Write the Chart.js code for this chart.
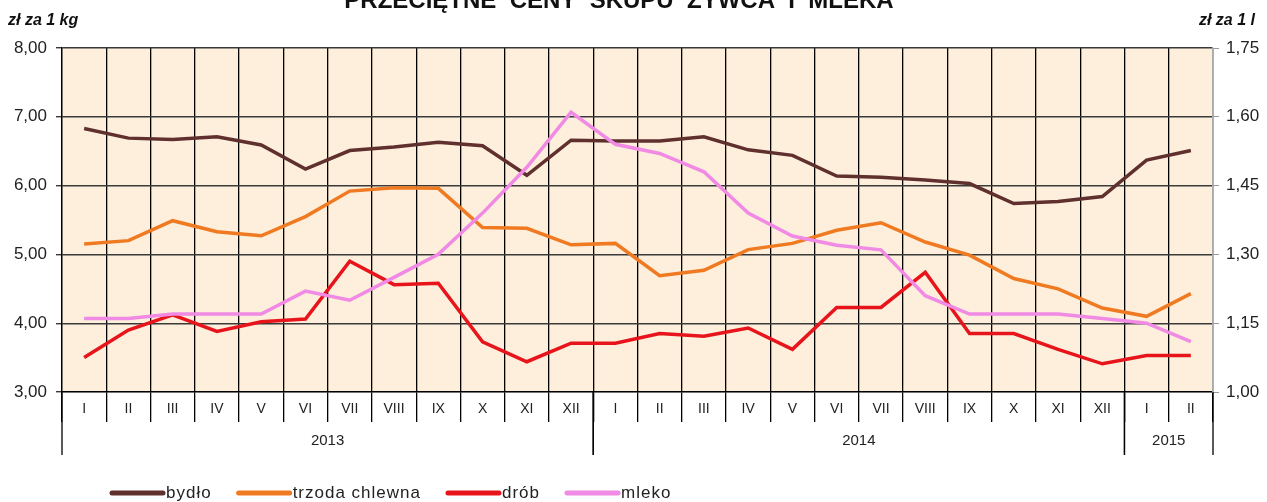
<!DOCTYPE html>
<html>
<head>
<meta charset="utf-8">
<script src="https://cdn.jsdelivr.net/npm/chart.js@4"></script>
<style>
  html, body { margin: 0; padding: 0; background: #fff; }
  #wrap { width: 1267px; height: 502px; }
</style>
</head>
<body>
<div id="wrap"><canvas id="myChart" width="1267" height="502"></canvas></div>
<script>
// months on the x axis, grouped by year below
var months = ['I','II','III','IV','V','VI','VII','VIII','IX','X','XI','XII',
              'I','II','III','IV','V','VI','VII','VIII','IX','X','XI','XII',
              'I','II'];
var yearLabels = ['2013', '2014', '2015'];
var yearCounts = [12, 12, 2];

// zl za 1 kg
var bydlo  = [6.83, 6.69, 6.67, 6.71, 6.59, 6.24, 6.51, 6.56, 6.63, 6.58, 6.15, 6.66,
              6.65, 6.65, 6.71, 6.52, 6.44, 6.14, 6.12, 6.08, 6.03, 5.74, 5.77, 5.84,
              6.37, 6.51];
var trzoda = [5.15, 5.20, 5.49, 5.33, 5.27, 5.55, 5.92, 5.97, 5.96, 5.39, 5.38, 5.14,
              5.16, 4.69, 4.77, 5.07, 5.16, 5.35, 5.46, 5.18, 4.99, 4.65, 4.50, 4.22,
              4.10, 4.43];
var drob   = [3.50, 3.90, 4.12, 3.88, 4.02, 4.06, 4.90, 4.56, 4.58, 3.73, 3.44, 3.71,
              3.71, 3.85, 3.81, 3.93, 3.62, 4.23, 4.23, 4.74, 3.85, 3.85, 3.62, 3.41,
              3.53, 3.53];
// zl za 1 l
var mleko  = [1.16, 1.16, 1.17, 1.17, 1.17, 1.22, 1.20, 1.25, 1.30, 1.39, 1.49, 1.61,
              1.54, 1.52, 1.48, 1.39, 1.34, 1.32, 1.31, 1.21, 1.17, 1.17, 1.17, 1.16,
              1.15, 1.11];

var FONT = '"Liberation Sans", Arial, sans-serif';

function fmt(v) { return v.toFixed(2).replace('.', ','); }

var extras = {
  id: 'extras',
  beforeDraw: function(chart) {
    var a = chart.chartArea, c = chart.ctx;
    c.save();
    c.fillStyle = '#fdefdc';
    c.fillRect(a.left, a.top, a.right - a.left, a.bottom - a.top);
    c.restore();
  },
  afterDraw: function(chart) {
    var c = chart.ctx, a = chart.chartArea, x = chart.scales.x;
    var half = (x.getPixelForValue(1) - x.getPixelForValue(0)) / 2;
    c.save();

    // year groups
    c.strokeStyle = '#000';
    c.lineWidth = 1.3;
    c.fillStyle = '#222';
    c.font = '15px ' + FONT;
    c.textAlign = 'center';
    c.textBaseline = 'middle';
    var start = 0;
    for (var i = 0; i < yearLabels.length; i++) {
      var end = start + yearCounts[i] - 1;
      var x0 = x.getPixelForValue(start) - half;
      var x1 = x.getPixelForValue(end) + half;
      c.beginPath();
      c.moveTo(x0, a.bottom); c.lineTo(x0, a.bottom + 63);
      c.moveTo(x1, a.bottom); c.lineTo(x1, a.bottom + 63);
      c.stroke();
      c.fillText(yearLabels[i], (x0 + x1) / 2, a.bottom + 49);
      start = end + 1;
    }

    // title
    c.fillStyle = '#111';
    c.font = 'bold 24px ' + FONT;
    c.textBaseline = 'alphabetic';
    c.fillText('PRZECIĘTNE  CENY  SKUPU  ŻYWCA  I  MLEKA', 619, 8);

    // unit labels
    c.font = 'italic bold 16px ' + FONT;
    c.textBaseline = 'middle';
    c.textAlign = 'left';
    c.fillText('zł za 1 kg', 8, 21);
    c.textAlign = 'right';
    c.fillText('zł za 1 l', 1255, 21);

    // legend
    var lx = 110, ly = 493;
    c.font = '17px ' + FONT;
    c.letterSpacing = '1px';
    c.textAlign = 'left';
    chart.data.datasets.forEach(function(ds) {
      c.strokeStyle = ds.borderColor;
      c.lineWidth = 5;
      c.lineCap = 'round';
      c.beginPath();
      c.moveTo(lx + 2, ly); c.lineTo(lx + 53, ly);
      c.stroke();
      c.fillStyle = '#222';
      c.fillText(ds.label, lx + 56, ly);
      lx += 56 + c.measureText(ds.label).width + 25;
    });
    c.restore();
  }
};

var ctx = document.getElementById('myChart');
var config = {
  type: 'line',
  data: {
    labels: months,
    datasets: [
      { label: 'bydło', data: bydlo, borderColor: '#60302e', yAxisID: 'y', order: 4 },
      { label: 'trzoda chlewna', data: trzoda, borderColor: '#ef7a22', yAxisID: 'y', order: 3 },
      { label: 'drób', data: drob, borderColor: '#e8141c', yAxisID: 'y', order: 2 },
      { label: 'mleko', data: mleko, borderColor: '#f08ae4', yAxisID: 'y1', order: 1 }
    ]
  },
  options: {
    responsive: false,
    animation: false,
    layout: { padding: { top: 48, left: 0, right: 0, bottom: 0 } },
    elements: {
      line: { tension: 0, borderWidth: 3.5, fill: false },
      point: { radius: 0 }
    },
    plugins: {
      legend: { display: false },
      tooltip: { enabled: false }
    },
    scales: {
      x: {
        offset: true,
        grid: { offset: true, color: '#000', lineWidth: 1.3, tickLength: 30, drawTicks: true },
        border: { color: '#000', width: 1.3 },
        ticks: { font: { family: FONT, size: 14 }, color: '#222', padding: -21,
                 autoSkip: false, maxRotation: 0 },
        afterFit: function(s) { s.height = 110; }
      },
      y: {
        position: 'left',
        min: 3, max: 8,
        ticks: { stepSize: 1, callback: fmt, font: { family: FONT, size: 17 }, color: '#222', padding: 9 },
        grid: { color: '#3a3a3a', lineWidth: 1.4, tickLength: 6 },
        border: { color: '#000', width: 1.3 },
        afterFit: function(s) { s.width = 62; }
      },
      y1: {
        position: 'right',
        min: 1.00, max: 1.75,
        ticks: { stepSize: 0.15, callback: fmt, font: { family: FONT, size: 17 }, color: '#222', padding: 7 },
        grid: { drawOnChartArea: false, color: '#999', tickLength: 6 },
        border: { color: '#aaa', width: 1.3 },
        afterFit: function(s) { s.width = 54; }
      }
    }
  },
  plugins: [extras]
};
var myChart = new Chart(ctx, config);
</script>
</body>
</html>
